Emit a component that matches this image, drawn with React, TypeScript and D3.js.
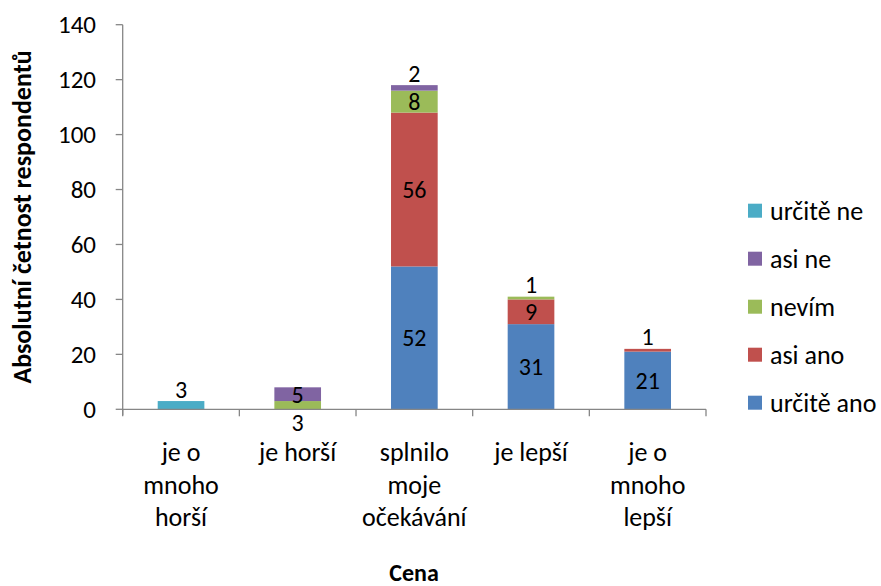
import React from "react";
import * as d3 from "d3";

const categories: string[][] = [
  ["je o", "mnoho", "horší"],
  ["je horší"],
  ["splnilo", "moje", "očekávání"],
  ["je lepší"],
  ["je o", "mnoho", "lepší"],
];
const seriesNames = ["určitě ano", "asi ano", "nevím", "asi ne", "určitě ne"];
const urciteAno = [0, 0, 52, 31, 21];
const asiAno = [0, 0, 56, 9, 1];
const nevim = [0, 3, 8, 1, 0];
const asiNe = [0, 5, 2, 0, 0];
const urciteNe = [3, 0, 0, 0, 0];
const colors = ["#4F81BD", "#C0504D", "#9BBB59", "#8064A2", "#4BACC6"];
const yTicks = [0, 20, 40, 60, 80, 100, 120, 140];
const yTitle = "Absolutní četnost respondentů";
const xTitle = "Cena";

const FONT = "Carlito, Calibri, Lato, 'Noto Sans', sans-serif";

export default function App() {
  const W = 881, H = 586;
  const values = [urciteAno, asiAno, nevim, asiNe, urciteNe];
  const keys = categories.map((_, i) => String(i));
  const x = d3.scaleBand<string>().domain(keys).range([122.7, 706]).paddingInner(0.6).paddingOuter(0.3);
  const y = d3.scaleLinear().domain([0, 140]).range([409.3, 24.7]);
  const rows = keys.map((k, i) => {
    const r: any = { key: k };
    seriesNames.forEach((s, j) => (r[s] = values[j][i]));
    return r;
  });
  const stacked = d3.stack<any>().keys(seriesNames)(rows);
  const step = x.step();
  const x0 = 122.7;

  const labels: any[] = [];
  stacked.forEach((layer, j) => {
    layer.forEach((seg, i) => {
      const v = values[j][i];
      if (!v) return;
      const top = y(seg[1]);
      const bot = y(seg[0]);
      const h = bot - top;
      const isTop = values.slice(j + 1).every((arr) => !arr[i]);
      let cy = (top + bot) / 2;
      if (h < 10) cy = isTop ? top - 12 : bot + 13;
      labels.push({ x: (x(keys[i]) as number) + x.bandwidth() / 2, y: cy, t: String(v), k: `${i}-${j}` });
    });
  });

  const legendOrder = [4, 3, 2, 1, 0];

  return (
    <svg width={W} height={H} style={{ position: "absolute", left: 0, top: 0, background: "#fff" }} fontFamily={FONT}>
      <rect x={0} y={0} width={W} height={H} fill="#fff" />
      {stacked.map((layer, j) => (
        <g key={j} fill={colors[j]}>
          {layer.map((seg, i) =>
            values[j][i] ? (
              <rect key={i} x={x(keys[i])} y={y(seg[1])} width={x.bandwidth()} height={y(seg[0]) - y(seg[1])} />
            ) : null
          )}
        </g>
      ))}
      {/* y axis */}
      <line x1={x0} x2={x0} y1={y(140)} y2={y(0) + 6} stroke="#868686" strokeWidth={1.3} />
      {yTicks.map((t) => (
        <g key={t}>
          <line x1={x0 - 7} x2={x0} y1={y(t)} y2={y(t)} stroke="#868686" strokeWidth={1.3} />
          <text x={96} y={y(t)} textAnchor="end" dominantBaseline="central" fontSize={25} fill="#000">
            {t}
          </text>
        </g>
      ))}
      {/* x axis */}
      <line x1={x0} x2={706} y1={y(0)} y2={y(0)} stroke="#868686" strokeWidth={1.3} />
      {d3.range(6).map((i) => (
        <line key={i} x1={x0 + i * step} x2={x0 + i * step} y1={y(0)} y2={y(0) + 7} stroke="#868686" strokeWidth={1.3} />
      ))}
      {categories.map((lines, i) => (
        <text key={i} textAnchor="middle" fontSize={26} fill="#000">
          {lines.map((l, k) => (
            <tspan key={k} x={(x(keys[i]) as number) + x.bandwidth() / 2} y={452 + k * 32.5} dominantBaseline="central">
              {l}
            </tspan>
          ))}
        </text>
      ))}
      {labels.map((l) => (
        <text key={l.k} x={l.x} y={l.y} textAnchor="middle" dominantBaseline="central" fontSize={24} fill="#000">
          {l.t}
        </text>
      ))}
      <text
        transform={`translate(22,${(y(0) + y(140)) / 2}) rotate(-90)`}
        textAnchor="middle"
        dominantBaseline="central"
        fontSize={26}
        fontWeight="bold"
        fill="#000"
      >
        {yTitle}
      </text>
      <text x={414} y={572} textAnchor="middle" dominantBaseline="central" fontSize={24} fontWeight="bold" fill="#000">
        {xTitle}
      </text>
      {legendOrder.map((j, k) => (
        <g key={j} transform={`translate(748,${210.7 + k * 48})`}>
          <rect x={0} y={-7} width={14} height={14} fill={colors[j]} />
          <text x={22} y={0} dominantBaseline="central" fontSize={26} fill="#000">
            {seriesNames[j]}
          </text>
        </g>
      ))}
    </svg>
  );
}
